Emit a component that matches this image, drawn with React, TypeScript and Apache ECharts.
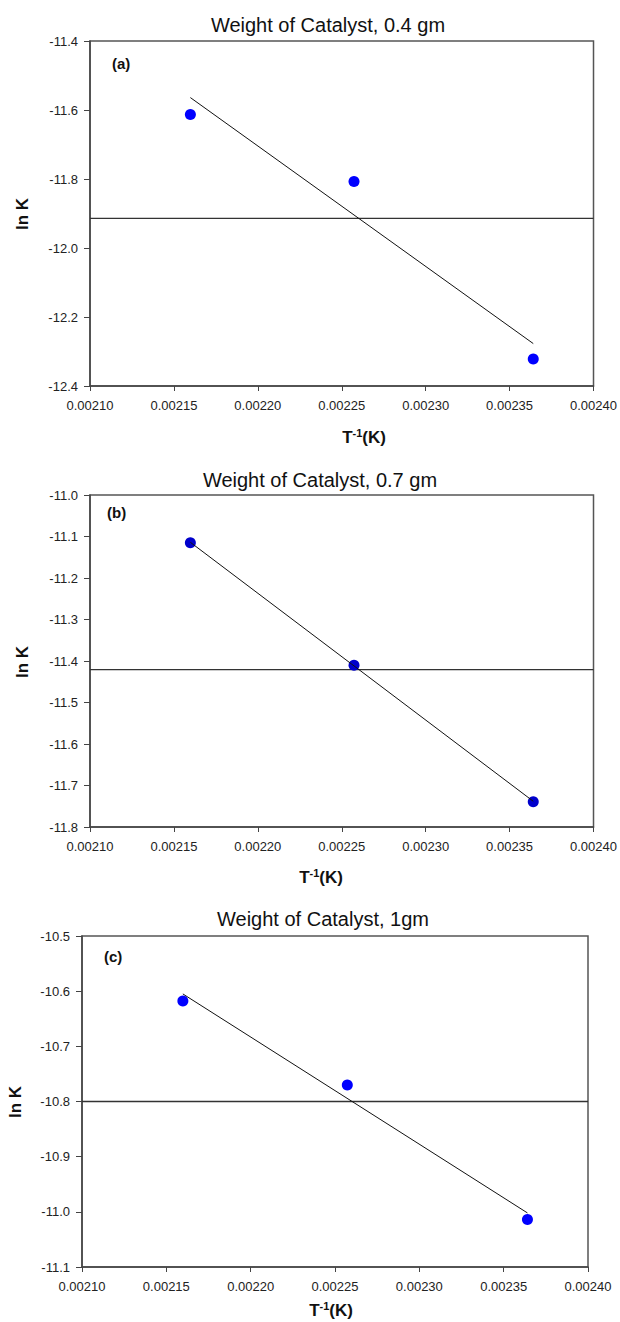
import React, { useEffect, useRef } from "react";
import * as echarts from "echarts";

// Inverse temperatures (1/K)
const invT = [0.0021598, 0.0022573, 0.0023641];

// ln K values
const lnK_a = [-11.613, -11.807, -12.322];
const lnK_b = [-11.115, -11.41, -11.739];
const lnK_c = [-10.618, -10.77, -11.014];

// fitted line end points, at first and last x
const fitX = [0.0021598, 0.0023641];
const fit_a = [-11.564, -12.277];
const fit_b = [-11.114, -11.738];
const fit_c = [-10.605, -11.002];

// horizontal reference line values
const mean_a = -11.914;
const mean_b = -11.421;
const mean_c = -10.8;

const titles = ["Weight of Catalyst, 0.4 gm", "Weight of Catalyst, 0.7 gm", "Weight of Catalyst, 1gm"];
const panelLabels = ["(a)", "(b)", "(c)"];
const yRanges = [
  { min: -12.4, max: -11.4, interval: 0.2 },
  { min: -11.8, max: -11.0, interval: 0.1 },
  { min: -11.1, max: -10.5, interval: 0.1 },
];
const xMin = 0.0021;
const xMax = 0.0024;
const xInterval = 0.00005;

const FONT = "Liberation Sans, Arial, Helvetica, sans-serif";

export default function App() {
  const ref = useRef<HTMLDivElement>(null);
  useEffect(() => {
    document.body.style.margin = "0";
    const chart = echarts.init(ref.current!, undefined, { renderer: "svg" });

    const grids = [
      { left: 90, top: 41, width: 504, height: 345 },
      { left: 90, top: 495, width: 505, height: 332 },
      { left: 82, top: 936, width: 506, height: 331 },
    ];

    const axisLine = { show: true, lineStyle: { color: "#444", width: 1.5 } };

    const xAxis = grids.map((_, i) => ({
      type: "value",
      gridIndex: i,
      min: xMin,
      max: xMax,
      interval: xInterval,
      axisLine,
      axisTick: { show: true, inside: false, length: 5, lineStyle: { color: "#444" } },
      splitLine: { show: false },
      axisLabel: {
        formatter: (v: number) => v.toFixed(5),
        fontSize: 13,
        color: "#222",
        fontFamily: FONT,
        margin: 13,
      },
    }));

    const yAxis = yRanges.map((r, i) => ({
      type: "value",
      gridIndex: i,
      min: r.min,
      max: r.max,
      interval: r.interval,
      axisLine,
      axisTick: { show: true, inside: false, length: 6, lineStyle: { color: "#444" } },
      splitLine: { show: false },
      axisLabel: {
        formatter: (v: number) => v.toFixed(1),
        fontSize: 13,
        color: "#222",
        fontFamily: FONT,
        margin: 12,
      },
    }));

    const lnKs = [lnK_a, lnK_b, lnK_c];
    const fits = [fit_a, fit_b, fit_c];
    const means = [mean_a, mean_b, mean_c];
    const markerColors = ["#0000ff", "#0000cc", "#0000ff"];

    const series: any[] = [];
    for (let i = 0; i < 3; i++) {
      series.push({
        type: "line",
        xAxisIndex: i,
        yAxisIndex: i,
        data: [
          [xMin, means[i]],
          [xMax, means[i]],
        ],
        symbol: "none",
        lineStyle: { color: "#333", width: 1.3 },
        silent: true,
        z: 2,
      });
      series.push({
        type: "line",
        xAxisIndex: i,
        yAxisIndex: i,
        data: fitX.map((x, k) => [x, fits[i][k]]),
        symbol: "none",
        lineStyle: { color: "#111", width: 1 },
        silent: true,
        z: i === 1 ? 4 : 2,
      });
      series.push({
        type: "scatter",
        xAxisIndex: i,
        yAxisIndex: i,
        data: invT.map((x, k) => [x, lnKs[i][k]]),
        symbol: "circle",
        symbolSize: 11,
        itemStyle: { color: markerColors[i], opacity: 1 },
        z: 3,
      });
    }

    const titlePos = [
      { x: 328, y: 25 },
      { x: 320, y: 480 },
      { x: 323, y: 919 },
    ];
    const labelPos = [
      { x: 112, y: 63 },
      { x: 107, y: 512 },
      { x: 104, y: 956 },
    ];
    const lnKPos = [
      { x: 22, y: 214 },
      { x: 22, y: 662 },
      { x: 15, y: 1102 },
    ];
    const xTitlePos = [
      { x: 364, y: 437 },
      { x: 321, y: 877 },
      { x: 331, y: 1310 },
    ];

    const graphic: any[] = [];
    for (let i = 0; i < 3; i++) {
      graphic.push({
        type: "text",
        x: titlePos[i].x,
        y: titlePos[i].y,
        style: {
          text: titles[i],
          font: `20px ${FONT}`,
          fill: "#111",
          textAlign: "center",
          textVerticalAlign: "middle",
        },
      });
      graphic.push({
        type: "text",
        x: labelPos[i].x,
        y: labelPos[i].y,
        style: {
          text: panelLabels[i],
          font: `bold 15px ${FONT}`,
          fill: "#111",
          textAlign: "left",
          textVerticalAlign: "middle",
        },
      });
      graphic.push({
        type: "text",
        x: lnKPos[i].x,
        y: lnKPos[i].y,
        rotation: Math.PI / 2,
        style: {
          text: "ln K",
          font: `bold 17px ${FONT}`,
          fill: "#111",
          textAlign: "center",
          textVerticalAlign: "middle",
        },
      });
      graphic.push({
        type: "text",
        x: xTitlePos[i].x,
        y: xTitlePos[i].y,
        style: {
          text: "{b|T}{s|-1}{b|(K)}",
          textAlign: "center",
          textVerticalAlign: "middle",
          rich: {
            b: { font: `bold 17px ${FONT}`, fill: "#111", color: "#111" },
            s: {
              font: `bold 11px ${FONT}`,
              fill: "#111",
              color: "#111",
              verticalAlign: "top",
              padding: [0, 0, 8, 0],
            },
          },
        },
      });
    }

    chart.setOption({
      animation: false,
      backgroundColor: "#fff",
      grid: grids.map((g) => ({
        ...g,
        show: true,
        borderColor: "#555",
        borderWidth: 1.5,
        backgroundColor: "transparent",
      })),
      xAxis,
      yAxis,
      series,
      graphic,
    });

    return () => chart.dispose();
  }, []);

  return <div ref={ref} style={{ width: 620, height: 1322 }} />;
}
